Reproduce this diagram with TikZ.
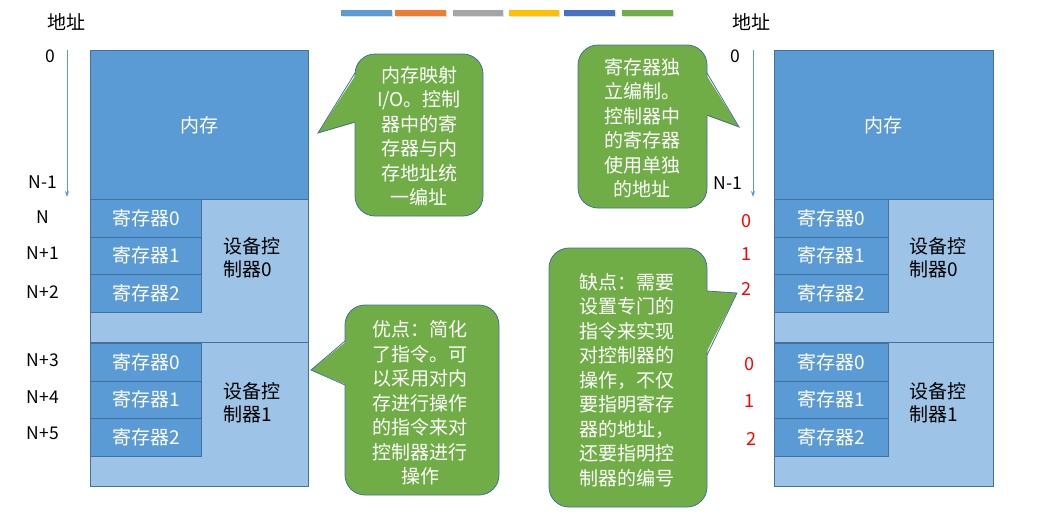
\documentclass[tikz,border=0pt]{standalone}
\usepackage{fontspec}
\setmainfont{Noto Sans CJK SC}
\definecolor{memblue}{HTML}{5B9BD5}
\definecolor{ctrlblue}{HTML}{9DC3E6}
\definecolor{edgeblue}{HTML}{41719C}
\definecolor{bubblegreen}{HTML}{70AD47}
\definecolor{barorange}{HTML}{ED7D31}
\definecolor{bargray}{HTML}{A5A5A5}
\definecolor{baryellow}{HTML}{FFC000}
\definecolor{bardark}{HTML}{4472C4}
\tikzset{
  blk/.style={draw=edgeblue, line width=0.8pt, inner sep=0pt, anchor=north west},
  memblk/.style={blk, fill=memblue, text=white, font=\fontsize{19}{23}\selectfont},
  ctrlblk/.style={blk, fill=ctrlblue},
  regblk/.style={blk, fill=memblue, text=white, font=\fontsize{19}{22}\selectfont},
  ctrllabel/.style={anchor=west, align=left, inner sep=0pt, font=\fontsize{19}{23}\selectfont},
  addr/.style={inner sep=0pt, font=\fontsize{17.5}{20}\selectfont},
  regno/.style={inner sep=0pt, text=red, font=\fontsize{18}{20}\selectfont},
  bubble/.style={fill=bubblegreen, draw=edgeblue, line width=0.8pt, rounded corners=20pt},
  bubbletext/.style={align=center, text=white, inner sep=0pt, font=\fontsize{19}{24.5}\selectfont},
  addrarrow/.style={draw=memblue, line width=0.8pt, -{Stealth[length=6pt,width=4pt]}},
}
\usetikzlibrary{arrows.meta}
\begin{document}
\begin{tikzpicture}[x=1pt, y=-1pt]
  \useasboundingbox (0,0) rectangle (1053,522);

  % colour bars at the top
  \fill[black!12] (342,11) rectangle (393,17);
  \fill[memblue] (341,10) rectangle (392,16);
  \fill[black!12] (396,11) rectangle (447,17);
  \fill[barorange] (395,10) rectangle (446,16);
  \fill[black!12] (454,11) rectangle (504,17);
  \fill[bargray] (453,10) rectangle (503,16);
  \fill[black!12] (510,11) rectangle (560,17);
  \fill[baryellow] (509,10) rectangle (559,16);
  \fill[black!12] (565,11) rectangle (616,17);
  \fill[bardark] (564,10) rectangle (615,16);
  \fill[black!12] (623,11) rectangle (674,17);
  \fill[bubblegreen] (622,10) rectangle (673,16);

  % left: unified addressing
  \node[font=\fontsize{19}{23}\selectfont, inner sep=0pt] (addrL) at (66,22) {地址};
  \node[addr] (zeroL) at (50,56) {0};
  \node[addr] (lastL) at (43,182) {N-1};
  \coordinate (arrLtop) at (67,50);
  \coordinate (arrLbot) at (67,197);
  \draw[addrarrow] (arrLtop) -- (arrLbot);

  \node[memblk, minimum width=218, minimum height=149] (memL) at (90,50) {内存};
  \node[ctrlblk, minimum width=218, minimum height=143] (ctrl0L) at (90,199) {};
  \node[ctrlblk, minimum width=218, minimum height=144] (ctrl1L) at (90,342) {};
  \node[regblk, minimum width=111, minimum height=37.5] (r00L) at (90,199) {寄存器0};
  \node[regblk, minimum width=111, minimum height=37.5] (r01L) at (90,236.5) {寄存器1};
  \node[regblk, minimum width=111, minimum height=37.5] (r02L) at (90,274) {寄存器2};
  \node[regblk, minimum width=111, minimum height=37.5] (r10L) at (90,343) {寄存器0};
  \node[regblk, minimum width=111, minimum height=37.5] (r11L) at (90,380.5) {寄存器1};
  \node[regblk, minimum width=111, minimum height=37.5] (r12L) at (90,418) {寄存器2};
  \node[ctrllabel] (c0L) at (223,258) {设备控\\制器0};
  \node[ctrllabel] (c1L) at (223,403) {设备控\\制器1};

  \node[addr] (nL0) at (43,217) {N};
  \node[addr] (nL1) at (43,253) {N+1};
  \node[addr] (nL2) at (43,292) {N+2};
  \node[addr] (nL3) at (43,360) {N+3};
  \node[addr] (nL4) at (43,397) {N+4};
  \node[addr] (nL5) at (43,433) {N+5};

  % right: separate addressing
  \node[font=\fontsize{19}{23}\selectfont, inner sep=0pt] (addrR) at (751,22) {地址};
  \node[addr] (zeroR) at (735,56) {0};
  \node[addr] (lastR) at (728,183) {N-1};
  \coordinate (arrRtop) at (753,50);
  \coordinate (arrRbot) at (753,197);
  \draw[addrarrow] (arrRtop) -- (arrRbot);

  \node[memblk, minimum width=219, minimum height=149] (memR) at (774,50) {内存};
  \node[ctrlblk, minimum width=219, minimum height=143] (ctrl0R) at (774,199) {};
  \node[ctrlblk, minimum width=219, minimum height=144] (ctrl1R) at (774,342) {};
  \node[regblk, minimum width=114, minimum height=37.5] (r00R) at (774,199) {寄存器0};
  \node[regblk, minimum width=114, minimum height=37.5] (r01R) at (774,236.5) {寄存器1};
  \node[regblk, minimum width=114, minimum height=37.5] (r02R) at (774,274) {寄存器2};
  \node[regblk, minimum width=114, minimum height=37.5] (r10R) at (774,343) {寄存器0};
  \node[regblk, minimum width=114, minimum height=37.5] (r11R) at (774,380.5) {寄存器1};
  \node[regblk, minimum width=114, minimum height=37.5] (r12R) at (774,418) {寄存器2};
  \node[ctrllabel] (c0R) at (909,258) {设备控\\制器0};
  \node[ctrllabel] (c1R) at (909,403) {设备控\\制器1};

  \node[regno] (nR0) at (746,221) {0};
  \node[regno] (nR1) at (746,254) {1};
  \node[regno] (nR2) at (746,289) {2};
  \node[regno] (nR3) at (749,364) {0};
  \node[regno] (nR4) at (749,401) {1};
  \node[regno] (nR5) at (751,439) {2};

  % callouts
  \filldraw[bubble] (355,54) rectangle (483,216);
  \fill[bubblegreen] (357,73) -- (318,133) -- (357,122) -- cycle;
  \draw[edgeblue, line width=0.8pt] (355,73) -- (318,133) -- (355,122);
  \node[bubbletext] (noteMap) at (419,136) {内存映射\\I/O。控制\\器中的寄\\存器与内\\存地址统\\一编址};

  \filldraw[bubble] (578,45) rectangle (707,208);
  \fill[bubblegreen] (705,73) -- (739,127) -- (705,115) -- cycle;
  \draw[edgeblue, line width=0.8pt] (707,73) -- (739,127) -- (707,115);
  \node[bubbletext] (noteSep) at (642,128) {寄存器独\\立编制。\\控制器中\\的寄存器\\使用单独\\的地址};

  \filldraw[bubble] (345,305) rectangle (499,495);
  \fill[bubblegreen] (347,341) -- (311,370) -- (347,385) -- cycle;
  \draw[edgeblue, line width=0.8pt] (345,341) -- (311,370) -- (345,385);
  \node[bubbletext] (notePro) at (420,403) {优点：简化\\了指令。可\\以采用对内\\存进行操作\\的指令来对\\控制器进行\\操作};

  \filldraw[bubble] (549,248) rectangle (707,507);
  \fill[bubblegreen] (705,291) -- (737,293) -- (705,355) -- cycle;
  \draw[edgeblue, line width=0.8pt] (707,291) -- (737,293) -- (707,355);
  \node[bubbletext] (noteCon) at (627,380) {缺点：需要\\设置专门的\\指令来实现\\对控制器的\\操作，不仅\\要指明寄存\\器的地址，\\还要指明控\\制器的编号};
\end{tikzpicture}
\end{document}
